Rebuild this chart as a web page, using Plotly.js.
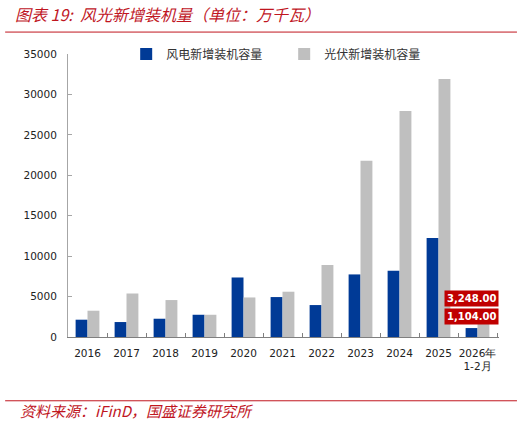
<!DOCTYPE html>
<html>
<head>
<meta charset="utf-8">
<script src="https://cdn.plot.ly/plotly-3.0.1.min.js"></script>
<style>html,body{margin:0;padding:0;background:#fff;}#chart{width:525px;height:425px;}</style>
</head>
<body>
<div id="chart"></div>
<script>
const categories = ["2016","2017","2018","2019","2020","2021","2022","2023","2024","2025","2026年<br>1-2月"];
const windValues = [2140, 1850, 2260, 2750, 7360, 4940, 3950, 7740, 8200, 12250, 1104];
const solarValues = [3250, 5380, 4570, 2750, 4890, 5600, 8890, 21790, 27960, 31900, 3248];
const seriesNames = ["风电新增装机容量", "光伏新增装机容量"];
const yTicks = [0, 5000, 10000, 15000, 20000, 25000, 30000, 35000];

const last = categories.length - 1;
const fmt = v => v.toLocaleString('en-US', {minimumFractionDigits: 2, maximumFractionDigits: 2});

const traces = [
  {type: 'bar', name: seriesNames[0], x: categories, y: windValues, marker: {color: '#003A96'}, hoverinfo: 'none'},
  {type: 'bar', name: seriesNames[1], x: categories, y: solarValues, marker: {color: '#BFBFBF'}, hoverinfo: 'none'}
];

const red = '#C0161F';
const layout = {
  width: 525, height: 425,
  margin: {l: 68, r: 26, t: 53.5, b: 87.5},
  paper_bgcolor: '#fff', plot_bgcolor: '#fff',
  showlegend: true,
  barmode: 'group', bargap: 0.39, bargroupgap: 0,
  title: {text: '图表 19:  风光新增装机量（单位：万千瓦）', x: 15/525, xanchor: 'left', xref: 'container',
          y: 1 - 15/425, yanchor: 'middle', yref: 'container',
          font: {family: 'Noto Sans CJK SC', size: 16, color: red, style: 'italic', weight: 'normal'}},
  legend: {orientation: 'h', x: 0.135, xanchor: 'left', y: 1.0, yanchor: 'middle',
           font: {family: 'Noto Sans CJK SC', size: 12, color: '#333'}, bgcolor: 'rgba(0,0,0,0)',
           entrywidth: 113},
  xaxis: {type: 'category', tickson: 'boundaries', ticks: 'inside', ticklen: 4, tickcolor: '#7F7F7F',
          showline: true, linecolor: '#7F7F7F', linewidth: 1, showgrid: false, zeroline: false,
          tickangle: 0, automargin: false, ticklabelstandoff: 6,
          tickfont: {family: 'DejaVu Sans', size: 10.5, color: '#222'}},
  yaxis: {range: [0, 35000], tickvals: yTicks, tickformat: 'd', ticks: 'inside', ticklen: 4,
          tickcolor: '#A6A6A6', showline: true, linecolor: '#A6A6A6', linewidth: 1,
          showgrid: false, zeroline: false, ticklabelstandoff: 8, automargin: false,
          tickfont: {family: 'DejaVu Sans', size: 10.5, color: '#222'}},
  shapes: [
    {type: 'line', xref: 'paper', yref: 'paper', x0: (5-68)/432, x1: (518-68)/432,
     y0: (337.5-31.5)/284, y1: (337.5-31.5)/284, line: {color: red, width: 1}},
    {type: 'line', xref: 'paper', yref: 'paper', x0: (5-68)/432, x1: (518-68)/432,
     y0: (337.5-401.5)/284, y1: (337.5-401.5)/284, line: {color: red, width: 1}}
  ],
  annotations: [
    {xref: 'x', yref: 'y', x: categories[last], y: solarValues[last], text: fmt(solarValues[last]),
     showarrow: false, xshift: -6, yshift: 12.5, yanchor: 'middle', bgcolor: '#C00000', borderpad: 2,
     font: {family: 'DejaVu Sans', size: 10, color: '#fff', weight: 'bold'}},
    {xref: 'x', yref: 'y', x: categories[last], y: windValues[last], text: fmt(windValues[last]),
     showarrow: false, xshift: -6, yshift: 11.5, yanchor: 'middle', bgcolor: '#C00000', borderpad: 2,
     font: {family: 'DejaVu Sans', size: 10, color: '#fff', weight: 'bold'}},
    {xref: 'paper', yref: 'paper', x: (18-68)/432, y: (337.5-411.5)/284, xanchor: 'left', yanchor: 'middle',
     showarrow: false, text: '资料来源：iFinD，国盛证券研究所',
     font: {family: 'Noto Sans CJK SC', size: 15, color: red, style: 'italic'}}
  ]
};

Plotly.newPlot('chart', traces, layout, {displayModeBar: false, staticPlot: true});
</script>
</body>
</html>
